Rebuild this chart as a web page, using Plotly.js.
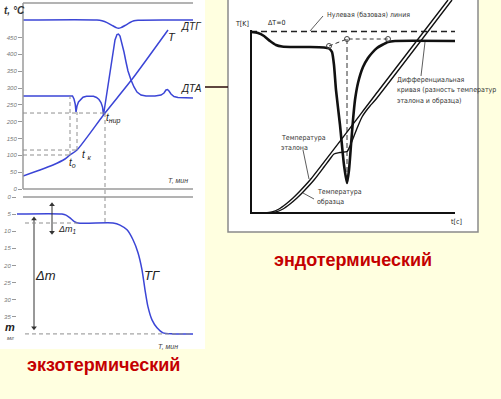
<!DOCTYPE html>
<html><head><meta charset="utf-8">
<script src="https://cdn.plot.ly/plotly-3.0.1.min.js"></script>
<style>html,body{margin:0;padding:0;background:#FFFFE0;}</style>
</head><body><div id="chart" style="width:501px;height:399px;"></div>
<script>
// ---------- Left-top: thermogram (time, °C) ----------
const tTime = [0,17,30,42,47,54,82,110,145];
const tTemp = [38.6,56.4,71.3,89.1,101,115.8,225.7,329.7,472.3];

const dtaTime = [0,49.5,51,52.2,53,54,55.5,57.5,60,63.5,67,70.5,73.5,76,78,79.5,80.5,82,84,86,88,90,92,94,95.5,97,99,101,103,105,108,111,114,118,123,132,138,141,143,144.5,146,148,151,155,170];
const dtaVal  = [276.2,276.2,267.3,252.5,228.7,246.5,258.4,265.8,272.7,275.6,276.2,275.3,271.8,265.8,256.9,243.6,219.8,249.5,279.2,314.9,359.4,406.9,442.6,458.9,460.4,454.5,433.7,406.9,377.2,350.5,323.8,303.0,288.1,279.2,276.2,276.2,279.2,285.1,294.1,295.6,291.1,282.2,274.7,271.8,270.3];

const dtgTime = [0,74,79,84,89,93,95.5,98,102,107,111,115,170];
const dtgVal  = [502,502,499.6,494.3,486.2,479.7,477.3,479.4,485.6,494.6,499.6,501.4,502];

const keyTime = [47,54,82];          // t0, tк, tнир
const keyTemp = [101,115.8,225.7];
const keyDTA  = [276.2,228.7,null];
const tempTicks = [0,50,100,150,200,250,300,350,400,450];

// ---------- Left-bottom: TG (mass loss, mg) ----------
const tgTime = [-6,39,43,47,51,55,90,97,104,110,115,119,122,125,129,134,140,150,170];
const tgMass = [5,5,5.3,6.1,7.1,7.6,7.6,8.2,9.6,12.5,16.3,21.3,27.1,32.1,35.9,38.2,39.7,40,40];
const massTicks = [0,5,10,15,20,25,30,35];
// double arrows: Δm (total) and Δm1 (first step)
const dmArrowX = [11,11];
const dmArrowY = [6.4,38.2];
const dm1ArrowX = [29,29];
const dm1ArrowY = [2.3,10.3];

// ---------- Right: endothermic DTA ----------
const diffT = [0,7,13,19,25,31,44,59,73,78,81,83,85,89,93,96,98,100,102,104,107,112,117,121,126,131,137,144,204];
const diffV = [181,180,177,172,168,166.5,166,166,165.5,164.5,161,148,123,88,48,30,43,68,93,113,130,146,155,160,165,168,171,172,172];
const refT = [0,14,21,28,35,42,49,59,128,197];
const refV = [0,0,1,4,9,15,22,33,123,213];
const smpT = [0,18,25,32,39,46,53,63,73,79,83,89,96,99,103,107,111,115,119,124.3,201];
const smpV = [0,0,1,4,9,15,22,33,46,54,59,60.5,61.5,67,77,87,96,102,107,113,213];
const baseT = [0,204];
const baseV = [181.5,181.5];
const connT = [78,96,137];
const connV = [167,174,174];
const meltT = [96,96];
const meltV = [174,30];

const W = 501, H = 399;
const PX = v => v / W, PY = v => 1 - v / H;
const blue = '#3b45d6';

const arrowTrace = (xs, ys) => ({x:xs, y:ys, xaxis:'x2', yaxis:'y2', mode:'lines+markers',
  line:{color:'#333',width:1}, marker:{symbol:['triangle-up','triangle-down'], size:5, color:'#333'}});

const traces = [
  {x:tTime, y:tTemp, xaxis:'x', yaxis:'y', mode:'lines', line:{color:blue,width:1.5,shape:'spline',smoothing:0.6}},
  {x:dtaTime, y:dtaVal, xaxis:'x', yaxis:'y', mode:'lines', line:{color:blue,width:1.5}},
  {x:dtgTime, y:dtgVal, xaxis:'x', yaxis:'y', mode:'lines', line:{color:blue,width:1.5,shape:'spline',smoothing:0.8}},
  {x:tgTime, y:tgMass, xaxis:'x2', yaxis:'y2', mode:'lines', line:{color:blue,width:1.5,shape:'spline',smoothing:0.7}},
  arrowTrace(dmArrowX, dmArrowY),
  arrowTrace(dm1ArrowX, dm1ArrowY),
  {x:baseT, y:baseV, xaxis:'x3', yaxis:'y3', mode:'lines', line:{color:'#222',width:1.6,dash:'6px,4px'}},
  {x:connT, y:connV, xaxis:'x3', yaxis:'y3', mode:'lines', line:{color:'#333',width:1,dash:'4px,3px'}},
  {x:meltT, y:meltV, xaxis:'x3', yaxis:'y3', mode:'lines', line:{color:'#333',width:1,dash:'5px,3px'}},
  {x:refT, y:refV, xaxis:'x3', yaxis:'y3', mode:'lines', line:{color:'#111',width:1.4,shape:'spline',smoothing:0.6}},
  {x:smpT, y:smpV, xaxis:'x3', yaxis:'y3', mode:'lines', line:{color:'#111',width:1.4,shape:'spline',smoothing:0.6}},
  {x:diffT, y:diffV, xaxis:'x3', yaxis:'y3', mode:'lines', line:{color:'#111',width:2.6,shape:'spline',smoothing:0.5}},
  {x:connT, y:connV, xaxis:'x3', yaxis:'y3', mode:'markers', marker:{symbol:'circle-open',size:5,color:'#444',line:{width:1}}}
];

const yTopDom = [PY(189), PY(3)], yTopRange = [0,552.5];
const topY = v => yTopDom[0] + (v - yTopRange[0]) / (yTopRange[1]-yTopRange[0]) * (yTopDom[1]-yTopDom[0]);
const yBotDom = [PY(337), PY(197)], yBotRange = [40.9,0];
const botY = v => yBotDom[0] + (v - yBotRange[0]) / (yBotRange[1]-yBotRange[0]) * (yBotDom[1]-yBotDom[0]);

const dashG = {color:'#8f8f8f', width:1, dash:'4px,3px'};
const shapes = [
  {type:'rect', xref:'paper', yref:'paper', x0:0, x1:PX(205), y0:PY(349), y1:1, fillcolor:'#ffffff', line:{width:0}, layer:'below'},
  {type:'rect', xref:'paper', yref:'paper', x0:PX(228), x1:PX(478), y0:PY(232), y1:PY(-2), fillcolor:'#ffffff', line:{color:'#8a8a8a',width:1.5}, layer:'below'},
  {type:'line', xref:'paper', yref:'paper', x0:PX(205), x1:PX(228), y0:PY(87), y1:PY(87), line:{color:'#2a0a0a',width:1.5}},
  {type:'line', xref:'paper', yref:'paper', x0:PX(23), x1:PX(193), y0:PY(3), y1:PY(3), line:{color:'#9a9a9a',width:1.5}},
  {type:'line', xref:'paper', yref:'paper', x0:PX(23), x1:PX(23), y0:PY(3), y1:PY(189), line:{color:'#9a9a9a',width:1.5}},
  {type:'line', xref:'paper', yref:'paper', x0:PX(23), x1:PX(193), y0:PY(189), y1:PY(189), line:{color:'#9a9a9a',width:1.5}},
  {type:'line', xref:'paper', yref:'paper', x0:PX(23), x1:PX(193), y0:PY(197), y1:PY(197), line:{color:'#9a9a9a',width:1.5}},
  {type:'line', xref:'paper', yref:'paper', x0:PX(251), x1:PX(251), y0:PY(30), y1:PY(214), line:{color:'#111',width:2}},
  {type:'line', xref:'paper', yref:'paper', x0:PX(250), x1:PX(455), y0:PY(213), y1:PY(213), line:{color:'#111',width:2}},
  {type:'line', xref:'paper', yref:'paper', x0:PX(323), x1:PX(310), y0:PY(16), y1:PY(31), line:{color:'#333',width:0.8}},
  {type:'line', xref:'paper', yref:'paper', x0:PX(421), x1:PX(425), y0:PY(76), y1:PY(42), line:{color:'#333',width:0.8}},
  {type:'line', xref:'paper', yref:'paper', x0:PX(303), x1:PX(309), y0:PY(150), y1:PY(179), line:{color:'#333',width:0.8}},
  {type:'line', xref:'paper', yref:'paper', x0:PX(314), x1:PX(303), y0:PY(199), y1:PY(193), line:{color:'#333',width:0.8}},
  {type:'line', xref:'x2', yref:'y2', x0:2, x1:170, y0:40, y1:40, line:dashG},
  {type:'line', xref:'x2', yref:'y2', x0:2, x1:55, y0:7.6, y1:7.6, line:dashG},
];
keyTime.forEach((t,i) => {
  shapes.push({type:'line', xref:'x', yref:'y', x0:0, x1:t, y0:keyTemp[i], y1:keyTemp[i], line:dashG});
  if (keyDTA[i] !== null) {
    shapes.push({type:'line', xref:'x', yref:'y', x0:t, x1:t, y0:keyTemp[i], y1:keyDTA[i], line:dashG});
  } else {
    shapes.push({type:'line', xref:'x', yref:'paper', x0:t, x1:t, y0:topY(keyTemp[i]), y1:botY(7.6), line:dashG});
  }
});

function ann(x, y, text, o) {
  return Object.assign({xref:'paper', yref:'paper', x:PX(x), y:PY(y), text:text, showarrow:false,
    xanchor:'center', yanchor:'middle', font:{size:10,color:'#222'}}, o || {});
}
const it = (s,c) => ({size:s, color:c||'#222', style:'italic'});
const narrow = 'Liberation Sans Narrow, DejaVu Sans Condensed, Arial Narrow, sans-serif';
const rf = {size:7, color:'#333', family:narrow};

const annotations = [
  ann(2, 10, '<b>t, °C</b>', {xanchor:'left', font:it(10,'#333')}),
  ann(191, 26, 'ДТГ', {font:it(10)}),
  ann(172, 37, 'T', {font:it(11)}),
  ann(191, 89, 'ДТА', {font:it(10)}),
  ann(104, 118, 't<sub>нир</sub>', {xanchor:'left', font:it(10)}),
  ann(80, 155, 't <sub>к</sub>', {xanchor:'left', font:it(10)}),
  ann(67, 163, 't<sub>о</sub>', {xanchor:'left', font:it(10)}),
  ann(166, 181, 'T, мин', {xanchor:'left', font:it(7,'#444')}),
  ann(56, 229, 'Δm<sub>1</sub>', {xanchor:'left', font:it(9)}),
  ann(33, 275, 'Δm', {xanchor:'left', font:it(13)}),
  ann(152, 275, 'ТГ', {font:it(13)}),
  ann(156, 346, 'T, мин', {xanchor:'left', font:it(7,'#444')}),
  ann(10, 327, '<b>m</b>', {font:it(11)}),
  ann(10, 338, 'мг', {font:it(6,'#555')}),
  ann(242, 24, 'T[K]', {font:{size:7,color:'#222',family:narrow}}),
  ann(276, 23, 'ΔT=0', {font:{size:7,color:'#222',family:narrow}}),
  ann(325, 15, 'Нулевая (базовая) линия', {xanchor:'left', font:rf}),
  ann(395, 80, 'Дифференциальная', {xanchor:'left', font:rf}),
  ann(395, 90, 'кривая (разность температур', {xanchor:'left', font:rf}),
  ann(395, 101, 'эталона и образца)', {xanchor:'left', font:rf}),
  ann(279, 138, 'Температура', {xanchor:'left', font:rf}),
  ann(279, 148, 'эталона', {xanchor:'left', font:rf}),
  ann(315, 192, 'Температура', {xanchor:'left', font:rf}),
  ann(315, 202, 'образца', {xanchor:'left', font:rf}),
  ann(456, 222, 't[c]', {font:{size:7,color:'#222',family:narrow}}),
  ann(103, 365, '<b>экзотермический</b>', {font:{size:18,color:'#c40000',family:'Liberation Sans, Arial, sans-serif'}}),
  ann(353, 260, '<b>эндотермический</b>', {font:{size:18,color:'#c40000',family:'Liberation Sans, Arial, sans-serif'}}),
];

const axHidden = {visible:false, fixedrange:true};
const layout = {
  width:W, height:H, margin:{l:0,r:0,t:0,b:0},
  paper_bgcolor:'#FFFFE0', plot_bgcolor:'rgba(0,0,0,0)', showlegend:false,
  font:{family:'Liberation Sans, Arial, sans-serif'},
  xaxis:Object.assign({domain:[PX(23),PX(193)], range:[0,170], anchor:'y'}, axHidden),
  yaxis:{domain:yTopDom, range:yTopRange, anchor:'x', showgrid:false, zeroline:false, showline:false,
    ticks:'outside', ticklen:4, tickcolor:'#999', tickwidth:1, tickvals:tempTicks,
    tickfont:{size:6,color:'#777',style:'italic'}},
  xaxis2:Object.assign({domain:[PX(17),PX(193)], range:[-6,170], anchor:'y2'}, axHidden),
  yaxis2:{domain:yBotDom, range:yBotRange, anchor:'x2', showgrid:false, zeroline:false, showline:false,
    ticks:'outside', ticklen:4, tickcolor:'#999', tickwidth:1, tickvals:massTicks,
    tickfont:{size:6,color:'#777',style:'italic'}},
  xaxis3:Object.assign({domain:[PX(251),PX(455)], range:[0,204], anchor:'y3'}, axHidden),
  yaxis3:Object.assign({domain:[PY(213),PY(0)], range:[0,213], anchor:'x3'}, axHidden),
  shapes:shapes, annotations:annotations
};
Plotly.newPlot('chart', traces, layout, {staticPlot:true, displayModeBar:false});
</script></body></html>
